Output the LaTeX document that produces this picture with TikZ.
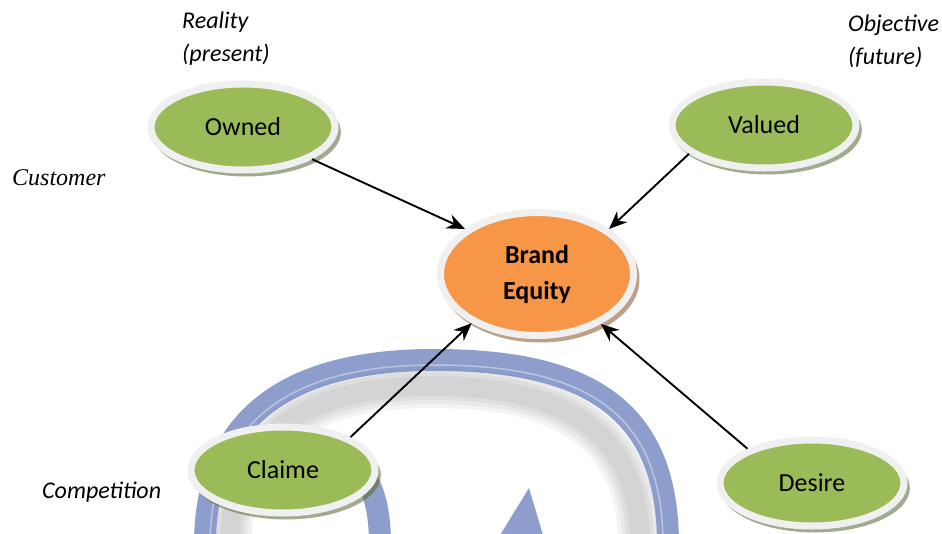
\documentclass[tikz,border=0pt]{standalone}
\usepackage{fontspec}
\setmainfont{Carlito}
\newfontfamily\serifface{Liberation Serif}
\usetikzlibrary{%
		arrows.meta%
		,shadows%
		,shapes.geometric%
	}

\definecolor{leafgreen}{RGB}{155,187,89}
\definecolor{equityorange}{RGB}{247,150,70}
\definecolor{rimgray}{RGB}{240,240,240}
\definecolor{swirlblue}{RGB}{122,142,196}

\tikzset{
	bubble/.style={ellipse, draw=rimgray, line width=7pt, fill=#1,
		drop shadow={shadow xshift=3pt, shadow yshift=-5pt, shadow scale=1.03, fill=black!45!#1, opacity=.55}},
	caption/.style={anchor=base west, inner sep=0pt, font=\itshape\fontsize{24}{28}\selectfont},
	feed/.style={-{Stealth[length=18pt,width=15pt]}, line width=1.9pt},
}

\begin{document}
\begin{tikzpicture}[x=1pt, y=-1pt]
			\fill[white] (0,0) rectangle (942,533);
			\useasboundingbox (0,0) rectangle (942,533);

			% Swirl behind the lower half
			\begin{scope}
				\clip (90,335) rectangle (942,533);
				% soft shadow, built up in layers
				\foreach \w in {44, 36, 28, 20}	{
					\draw[line width=\w pt, black, opacity=.045] (230,545) .. controls (230,438) and (303,386) .. (432,386) .. controls (562,386) and (640,430) .. (640,545);
				}
				\draw[line width=22pt, swirlblue, opacity=.85] (205,545) .. controls (205,420) and (285,360) .. (434,360) .. controls (590,360) and (668,410) .. (668,545);
				\draw[line width=1.5pt, white, opacity=.4] (210,545) .. controls (210,424) and (288,365) .. (434,365) .. controls (587,365) and (663,413) .. (663,545);
				\draw[line width=22pt, swirlblue, opacity=.85] (345,455) .. controls (372,475) and (380,505) .. (380,545);
				\fill[swirlblue, opacity=.85] (529,488) -- (546,545) -- (494,545) -- cycle;
			\end{scope}
			\fill[white] (0,462) rectangle (192,515);

			% Side labels
			\node[caption] (reality) at (182,28) {Reality};
			\node[caption] (present) at (182,61) {(present)};
			\node[caption] (objective) at (848,31) {Objective};
			\node[caption] (future) at (848,64) {(future)};
			\node[caption, font=\serifface\itshape\fontsize{24}{28}\selectfont] (customer) at (12,185) {Customer};
			\node[caption] (competition) at (42,498) {Competition};

			% Centre
			\node[bubble=equityorange, minimum width=193pt, minimum height=123pt, align=center,
				font=\bfseries\fontsize{26}{36}\selectfont] (brand) at (537,274) {Brand\\Equity};

			% Four sources
			\foreach \name/\x/\y/\txt in {owned/243/127/Owned, valued/764/125/Valued, claime/283/470/Claime, desire/812/483/Desire}	{
				\node[bubble=leafgreen, minimum width=184pt, minimum height=86pt, font=\fontsize{26}{30}\selectfont] (\name) at (\x,\y) {\txt};
			}

			\draw[feed] (owned.335) -- (brand.148);
			\draw[feed] (valued.201) -- (brand.32);
			\draw[feed] (claime.26) -- (brand.217);
			\draw[feed] (desire.152) -- (brand.322);
		\end{tikzpicture}
\end{document}
